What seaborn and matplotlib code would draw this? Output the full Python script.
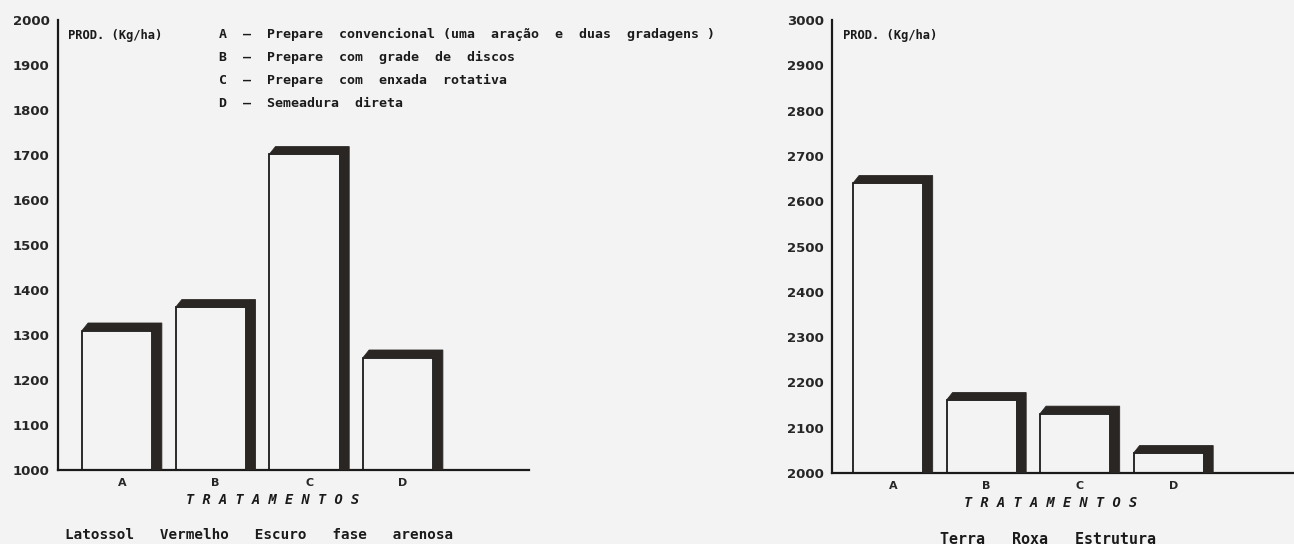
import numpy as np
import pandas as pd
import matplotlib
matplotlib.use("Agg")
import matplotlib.pyplot as plt
from matplotlib.patches import Polygon
import seaborn as sns

# ---- data ----
treatments = ["A", "B", "C", "D"]
prod_latossolo = [1310, 1362, 1702, 1250]
prod_terra_roxa = [2640, 2161, 2131, 2044]
yticks_left = list(range(1000, 2001, 100))
yticks_right = list(range(2000, 3001, 100))
legend_lines = [
    "A  —  Prepare  convencional (uma  aração  e  duas  gradagens )",
    "B  —  Prepare  com  grade  de  discos",
    "C  —  Prepare  com  enxada  rotativa",
    "D  —  Semeadura  direta",
]
ylabel_txt = "PROD. (Kg/ha)"
xlabel_txt = "T R A T A M E N T O S"
caption_left = "Latossol   Vermelho   Escuro   fase   arenosa"
caption_right = "Terra   Roxa   Estrutura"

BG = "#f3f3f3"
DARK = "#2a2623"
INK = "#1a1a1a"
MONO = ["DejaVu Sans Mono"]
W, H = 1294, 544

sns.set_style("white")
plt.rcParams["font.family"] = ["DejaVu Sans"]
plt.rcParams["figure.facecolor"] = BG
plt.rcParams["axes.facecolor"] = BG

fig = plt.figure(figsize=(W / 100, H / 100), dpi=100)


def px_axes(x0, y_top, x1, y_bot):
    return fig.add_axes([x0 / W, 1 - y_bot / H, (x1 - x0) / W, (y_bot - y_top) / H])


def draw_panel(ax, values, ylim, yticks, xlim):
    df = pd.DataFrame({"trat": treatments, "prod": values})
    sns.barplot(data=df, x="trat", y="prod", ax=ax, color=BG, edgecolor=INK,
                linewidth=1.3, width=0.75, saturation=1)
    ax.set_xlim(*xlim)
    ax.set_ylim(*ylim)
    ax.set_yticks(yticks)
    ax.set_yticklabels([str(t) for t in yticks], fontsize=9.5, fontweight="bold")
    ax.set_xticks(range(len(treatments)))
    ax.set_xticklabels(treatments, fontsize=8, fontweight="bold")
    ax.tick_params(axis="x", length=0, pad=6)
    ax.tick_params(axis="y", direction="out", length=5, width=1.4, pad=1, color=INK)
    ax.set_xlabel("")
    ax.set_ylabel("")
    for s in ["top", "right"]:
        ax.spines[s].set_visible(False)
    for s in ["left", "bottom"]:
        ax.spines[s].set_linewidth(1.6)
        ax.spines[s].set_color(INK)
    # pixel -> data scale
    p0 = ax.transData.transform((0, 0))
    p1 = ax.transData.transform((1, 1))
    sx, sy = p1[0] - p0[0], p1[1] - p0[1]
    dx, dy, bev = 9.5 / sx, 7.5 / sy, 6 / sx
    base = ylim[0]
    for patch in ax.patches:
        patch.set_x(patch.get_x() - dx / 2)
        x0 = patch.get_x()
        x1 = x0 + patch.get_width()
        top = patch.get_height()
        verts = [(x0, top), (x0 + bev, top + dy), (x1 + dx, top + dy),
                 (x1 + dx, base), (x1, base), (x1, top)]
        ax.add_patch(Polygon(verts, closed=True, facecolor=DARK, edgecolor=DARK,
                             linewidth=0.6, zorder=3))


axL = px_axes(58, 20, 529, 470)
draw_panel(axL, prod_latossolo, (1000, 2000), yticks_left, (-0.683, 4.345))
axR = px_axes(832, 20, 1294, 473)
draw_panel(axR, prod_terra_roxa, (2000, 3000), yticks_right, (-0.651, 4.29))


def ftext(x, y, s, size, ha="left", family=None, **kw):
    kws = dict(fontsize=size, ha=ha, va="center", fontweight="bold", color=INK)
    if family is not None:
        kws["family"] = family
    kws.update(kw)
    fig.text(x / W, 1 - y / H, s, **kws)


ftext(68, 35, ylabel_txt, 8.7, family=MONO)
ftext(843, 36, ylabel_txt, 8.7, family=MONO)
for i, line in enumerate(legend_lines):
    ftext(219, 34 + i * 23.3, line, 9.5, family=MONO)
ftext(273, 500, xlabel_txt, 9.8, ha="center", family=MONO, fontstyle="italic")
ftext(1051, 503, xlabel_txt, 9.8, ha="center", family=MONO, fontstyle="italic")
ftext(65, 535, caption_left, 10.3, family=MONO)
ftext(940, 539, caption_right, 10.8, family=MONO)

fig.savefig("out.png", dpi=100, facecolor=BG)
